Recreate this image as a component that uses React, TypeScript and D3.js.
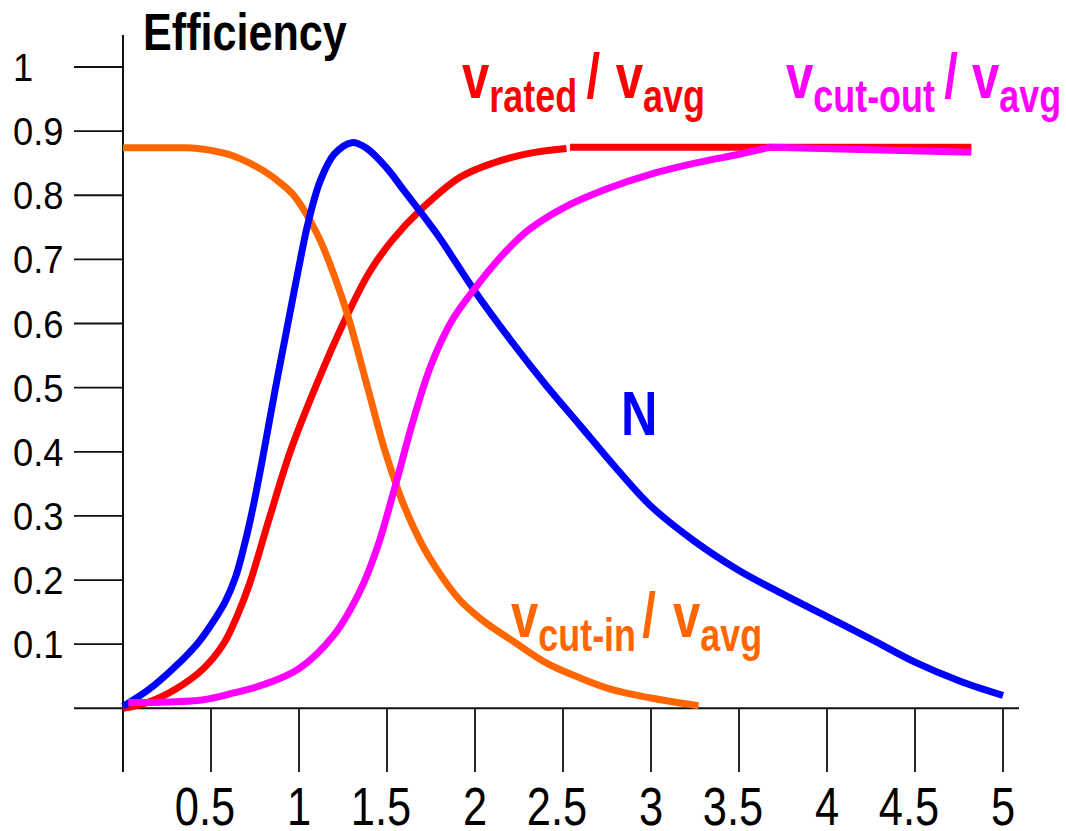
import React from "react";
import * as d3 from "d3";

// ---- data (v / v_avg, efficiency) ----
const xTicks = [0.5, 1, 1.5, 2, 2.5, 3, 3.5, 4, 4.5, 5];
const xTickLabels = ["0.5", "1", "1.5", "2", "2.5", "3", "3.5", "4", "4.5", "5"];
const yTicks = [0.1, 0.2, 0.3, 0.4, 0.5, 0.6, 0.7, 0.8, 0.9, 1];
const yTickLabels = ["0.1", "0.2", "0.3", "0.4", "0.5", "0.6", "0.7", "0.8", "0.9", "1"];

const nCurve: [number, number][] = [
  [0, 0.003], [0.15, 0.03], [0.285, 0.062], [0.42, 0.1], [0.5, 0.13], [0.58, 0.166],
  [0.64, 0.205], [0.69, 0.255], [0.74, 0.315], [0.79, 0.385], [0.86, 0.49], [0.93, 0.59],
  [0.99, 0.675], [1.05, 0.755], [1.12, 0.822], [1.2, 0.864], [1.3, 0.882], [1.38, 0.874],
  [1.5, 0.842], [1.6, 0.806], [1.78, 0.741], [2.0, 0.65], [2.2, 0.575], [2.4, 0.505],
  [2.6, 0.44], [2.8, 0.375], [3.0, 0.315], [3.25, 0.26], [3.5, 0.215], [3.75, 0.178],
  [4.0, 0.143], [4.25, 0.108], [4.5, 0.072], [4.75, 0.043], [5.0, 0.02],
];

const cutInCurve: [number, number][] = [
  [0, 0.874], [0.36, 0.874], [0.5, 0.87], [0.62, 0.862], [0.72, 0.85], [0.8, 0.838],
  [0.9, 0.818], [0.97, 0.8], [1.06, 0.762], [1.12, 0.73], [1.2, 0.675], [1.28, 0.61],
  [1.39, 0.5], [1.49, 0.4], [1.57, 0.335], [1.69, 0.26], [1.8, 0.21], [1.91, 0.17],
  [2.03, 0.14], [2.22, 0.104], [2.41, 0.07], [2.6, 0.047], [2.78, 0.029], [3.0, 0.016],
  [3.27, 0.004],
];

const ratedRise: [number, number][] = [
  [0, 0], [0.15, 0.01], [0.3, 0.03], [0.45, 0.06], [0.57, 0.1], [0.65, 0.145],
  [0.72, 0.195], [0.83, 0.295], [0.95, 0.4], [1.1, 0.505], [1.26, 0.605], [1.4, 0.68],
  [1.53, 0.73], [1.69, 0.777], [1.915, 0.828], [2.1, 0.85], [2.3, 0.865], [2.52, 0.873],
];
const ratedFlat: [number, number][] = [[2.54, 0.875], [4.82, 0.875]];

const cutOutRise: [number, number][] = [
  [0.03, 0.009], [0.25, 0.01], [0.45, 0.013], [0.63, 0.024], [0.8, 0.037], [1.0, 0.062],
  [1.2, 0.115], [1.35, 0.185], [1.45, 0.255], [1.55, 0.35], [1.65, 0.45], [1.75, 0.535],
  [1.87, 0.605], [2.0, 0.655], [2.15, 0.705], [2.3, 0.745], [2.5, 0.78], [2.75, 0.81],
  [3.0, 0.833], [3.25, 0.85], [3.5, 0.864], [3.68, 0.875],
];
const cutOutFlat: [number, number][] = [[3.68, 0.875], [4.82, 0.867]];

const FONT = "'Liberation Sans', Arial, Helvetica, sans-serif";

export default function App() {
  const x = d3.scaleLinear().domain([0, 5]).range([123, 1003]);
  const y = d3.scaleLinear().domain([0, 1]).range([708.3, 67]);
  const smooth = d3
    .line<[number, number]>()
    .x((d) => x(d[0]))
    .y((d) => y(d[1]))
    .curve(d3.curveCatmullRom.alpha(0.5));
  const straight = d3
    .line<[number, number]>()
    .x((d) => x(d[0]))
    .y((d) => y(d[1]));
  const mono = d3
    .line<[number, number]>()
    .x((d) => x(d[0]))
    .y((d) => y(d[1]))
    .curve(d3.curveMonotoneX);

  const lw = 7;

  const label = (
    tx: number,
    ty: number,
    color: string,
    sub: string,
    slashDx: number,
    vDx: number,
    key: string
  ) => (
    <g key={key} transform={`translate(${tx},${ty}) scale(0.78,1)`} fill={color}>
      <text x={0} y={0} fontFamily={FONT} fontWeight="bold">
        <tspan fontSize={63}>v</tspan>
        <tspan fontSize={46} dy={14}>{sub}</tspan>
        <tspan fontSize={63} dy={-14} dx={slashDx}>/</tspan>
        <tspan fontSize={63} dx={vDx}>v</tspan>
        <tspan fontSize={46} dy={14}>avg</tspan>
      </text>
    </g>
  );

  return (
    <svg
      width={1066}
      height={831}
      style={{ position: "absolute", left: 0, top: 0, background: "#fff" }}
    >
      {/* axes */}
      <line x1={x(0)} x2={x(0)} y1={35} y2={772} stroke="#111" strokeWidth={2} />
      <line x1={74} x2={1019} y1={y(0)} y2={y(0)} stroke="#111" strokeWidth={2} />
      {yTicks.map((t, i) => (
        <g key={"yt" + i}>
          <line x1={74} x2={x(0)} y1={y(t)} y2={y(t)} stroke="#111" strokeWidth={1.8} />
          <text
            transform={`translate(13,${y(t) + 14}) scale(0.92,1)`}
            fontFamily={FONT}
            fontSize={39.5}
            fill="#000"
          >
            {yTickLabels[i]}
          </text>
        </g>
      ))}
      {xTicks.map((t, i) => (
        <g key={"xt" + i}>
          <line x1={x(t)} x2={x(t)} y1={y(0)} y2={772} stroke="#111" strokeWidth={1.8} />
          <text
            transform={`translate(${x(t) + (xTickLabels[i].includes(".") ? -6 : 0)},825) scale(0.82,1)`}
            fontFamily={FONT}
            fontSize={53}
            textAnchor="middle"
            fill="#000"
          >
            {xTickLabels[i]}
          </text>
        </g>
      ))}

      {/* title */}
      <text
        transform="translate(143,50) scale(0.83,1)"
        fontFamily={FONT}
        fontWeight="bold"
        fontSize={52}
        fill="#000"
      >
        Efficiency
      </text>

      {/* curves */}
      <path d={smooth(ratedRise) || ""} fill="none" stroke="#ff0000" strokeWidth={lw} />
      <path d={straight(ratedFlat) || ""} fill="none" stroke="#ff0000" strokeWidth={lw} />
      <path d={mono(cutInCurve) || ""} fill="none" stroke="#ff6600" strokeWidth={lw} />
      <path d={smooth(nCurve) || ""} fill="none" stroke="#0000ff" strokeWidth={lw} />
      <path d={smooth(cutOutRise) || ""} fill="none" stroke="#ff00ff" strokeWidth={lw} />
      <path d={straight(cutOutFlat) || ""} fill="none" stroke="#ff00ff" strokeWidth={lw} />

      {/* labels */}
      {label(462, 98, "#ff0000", "rated", 12, 20, "rated")}
      {label(786, 98, "#ff00ff", "cut-out", 12, 18, "cutout")}
      {label(511, 637, "#ff6600", "cut-in", 8, 22, "cutin")}
      <text
        transform="translate(621,435) scale(0.8,1)"
        fontFamily={FONT}
        fontWeight="bold"
        fontSize={63}
        fill="#0000ff"
      >
        N
      </text>
    </svg>
  );
}
